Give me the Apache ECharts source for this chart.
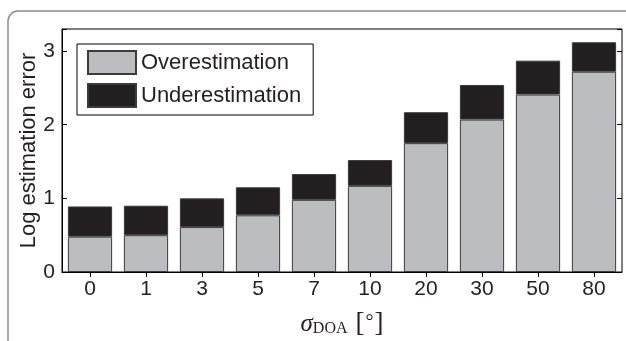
<!DOCTYPE html>
<html>
<head>
<meta charset="utf-8">
<script src="https://cdn.jsdelivr.net/npm/echarts@6/dist/echarts.min.js"></script>
<style>
html,body{margin:0;padding:0;background:#fff;}
#chart{width:626px;height:341px;}
</style>
</head>
<body>
<div id="chart"></div>
<script>
var categories = ['0', '1', '3', '5', '7', '10', '20', '30', '50', '80'];
var overestimation = [0.48, 0.50, 0.61, 0.77, 0.98, 1.17, 1.75, 2.07, 2.41, 2.72];
var underestimation = [0.41, 0.40, 0.39, 0.38, 0.35, 0.35, 0.42, 0.47, 0.46, 0.40];
var yTicks = [0, 1, 2, 3];

var chart = echarts.init(document.getElementById('chart'), null, {renderer: 'canvas'});
var font = 'Liberation Sans, Arial, sans-serif';
var serif = 'Liberation Serif, serif';
var option = {
  animation: false,
  backgroundColor: '#fff',
  graphic: [{
    type: 'rect', z: -10,
    shape: {x: 8, y: 11, width: 700, height: 400, r: 10},
    style: {fill: 'none', stroke: '#8c8c8c', lineWidth: 1.5}
  }],
  grid: {left: 62, right: 4, top: 29, bottom: 69, show: true, borderColor: '#000', borderWidth: 1,
    backgroundColor: 'transparent', containLabel: false, outerBoundsMode: 'none'},
  legend: {
    orient: 'vertical', left: 77, top: 44,
    itemWidth: 48, itemHeight: 23, itemGap: 8,
    padding: [6, 12, 7, 10],
    borderColor: '#000', borderWidth: 1, backgroundColor: '#fff',
    icon: 'rect',
    textStyle: {fontFamily: font, fontSize: 22, color: '#231f20'},
    data: ['Overestimation', 'Underestimation']
  },
  xAxis: [{
    type: 'category', data: categories, position: 'bottom',
    axisLine: {show: true, lineStyle: {color: '#000', width: 1}},
    axisTick: {show: false},
    axisLabel: {fontFamily: font, fontSize: 21, color: '#231f20', margin: 7},
    name: '{s|σ}{d|DOA}{g| }{b|[}{o|°}{b|]}',
    nameLocation: 'middle', nameGap: 38, nameMoveOverlap: false,
    nameTextStyle: {
      rich: {
        s: {fontFamily: serif, fontStyle: 'italic', fontSize: 25, color: '#231f20', verticalAlign: 'bottom'},
        d: {fontFamily: serif, fontSize: 16, color: '#231f20', padding: [7, 0, 0, 0], verticalAlign: 'bottom'},
        g: {fontFamily: serif, fontSize: 16, width: 8},
        b: {fontFamily: serif, fontSize: 27, color: '#231f20', verticalAlign: 'bottom'},
        o: {fontFamily: serif, fontSize: 20, color: '#231f20', verticalAlign: 'bottom', padding: [0, 1, 4, 1]}
      }
    }
  }, {
    type: 'category', data: categories, position: 'top',
    axisLine: {show: false},
    axisTick: {show: true, inside: true, alignWithLabel: true, length: 5, lineStyle: {color: '#000'}},
    axisLabel: {show: false}
  }],
  yAxis: [{
    type: 'value', min: 0, max: 3.3, interval: 1,
    axisLine: {show: true, lineStyle: {color: '#000'}},
    axisTick: {show: true, inside: true, length: 5, lineStyle: {color: '#000'}},
    axisLabel: {fontFamily: font, fontSize: 21, color: '#231f20', margin: 7,
      formatter: function (v) { return yTicks.indexOf(v) >= 0 ? String(v) : ''; }},
    splitLine: {show: false},
    name: 'Log estimation error', nameLocation: 'middle', nameGap: 22, nameMoveOverlap: false,
    nameTextStyle: {fontFamily: font, fontSize: 22, color: '#231f20'}
  }, {
    type: 'value', min: 0, max: 3.3, interval: 1, position: 'right',
    axisLine: {show: false},
    axisTick: {show: true, inside: true, length: 5, lineStyle: {color: '#000'}},
    axisLabel: {show: false},
    splitLine: {show: false}
  }],
  series: [{
    name: 'Overestimation', type: 'bar', stack: 'e', data: overestimation,
    barWidth: '79%',
    itemStyle: {color: '#bcbdc0', borderColor: '#3c3a3b', borderWidth: 1}
  }, {
    name: 'Underestimation', type: 'bar', stack: 'e', data: underestimation,
    barWidth: '79%',
    itemStyle: {color: '#231f20', borderColor: '#3c3a3b', borderWidth: 1}
  }]
};
chart.setOption(option);
</script>
</body>
</html>
